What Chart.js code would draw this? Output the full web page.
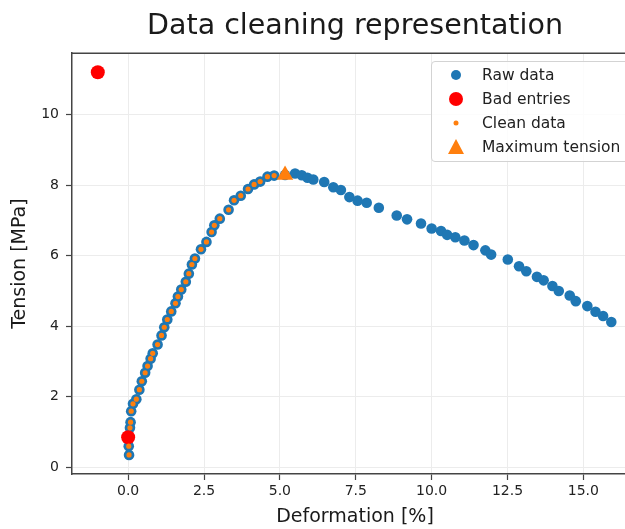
<!DOCTYPE html>
<html>
<head>
<meta charset="utf-8">
<script src="https://cdn.jsdelivr.net/npm/chart.js@4.4.1/dist/chart.umd.min.js"></script>
<style>
    html, body { margin: 0; padding: 0; overflow: hidden; background: #fff; }
    #wrap { position: relative; width: 625px; height: 529px; overflow: hidden; }
    #chart { position: absolute; left: 0; top: 0; }
    .legend {
        position: absolute; left: 431px; top: 61px; width: 240px; height: 99px;
        border: 1px solid #d3d3d3; border-radius: 4px; background: rgba(255,255,255,0.85);
        font: 15.5px "DejaVu Sans", sans-serif; color: #222;
    }
    .row { position: absolute; left: 0; height: 24px; line-height: 24px; width: 100%; }
    .row svg { position: absolute; left: 14px; top: 2px; }
    .row span { position: absolute; left: 50px; white-space: nowrap; }
</style>
</head>
<body>
<div id="wrap">
    <canvas id="chart" width="660" height="529"></canvas>
    <div class="legend">
        <div class="row" style="top:1px"><svg width="20" height="20"><circle cx="10" cy="10" r="5" fill="#1f77b4"/></svg><span>Raw data</span></div>
        <div class="row" style="top:25px"><svg width="20" height="20"><circle cx="10" cy="10" r="7" fill="#ff0000"/></svg><span>Bad entries</span></div>
        <div class="row" style="top:49px"><svg width="20" height="20"><circle cx="10" cy="10" r="2.5" fill="#ff7f0e"/></svg><span>Clean data</span></div>
        <div class="row" style="top:73px"><svg width="20" height="20"><polygon points="10,2 18,17 2,17" fill="#ff7f0e"/></svg><span>Maximum tension</span></div>
    </div>
</div>
<script>
// points kept after cleaning (rising part, bad entries removed)
const cleanX = [0.03, 0.02, 0.06, 0.08, 0.10, 0.16, 0.27, 0.37, 0.45, 0.56, 0.64, 0.74, 0.81, 0.97, 1.10,
    1.19, 1.29, 1.42, 1.56, 1.64, 1.75, 1.90, 2.00, 2.10, 2.20, 2.40, 2.58, 2.75, 2.84, 3.02,
    3.31, 3.49, 3.71, 3.95, 4.15, 4.35, 4.59, 4.81];
const cleanY = [0.35, 0.60, 1.12, 1.28, 1.59, 1.80, 1.93, 2.20, 2.44, 2.68, 2.87, 3.08, 3.23, 3.48, 3.74,
    3.97, 4.19, 4.42, 4.65, 4.84, 5.04, 5.26, 5.49, 5.75, 5.92, 6.18, 6.39, 6.67, 6.86, 7.05,
    7.30, 7.57, 7.70, 7.89, 8.02, 8.10, 8.24, 8.27];

// bad entries
const badX = [-1.0, 0.0];
const badY = [11.2, 0.85];

// maximum tension
const maxX = [5.17];
const maxY = [8.29];

// raw points after the maximum
const tailX = [5.50, 5.72, 5.91, 6.10, 6.46, 6.76, 7.01, 7.29, 7.56, 7.86, 8.26, 8.85, 9.19, 9.65, 10.0,
    10.31, 10.51, 10.78, 11.08, 11.38, 11.77, 11.96, 12.51, 12.88, 13.12, 13.47, 13.69, 13.98, 14.19, 14.55,
    14.75, 15.13, 15.40, 15.65, 15.92];
const tailY = [8.33, 8.28, 8.21, 8.16, 8.09, 7.94, 7.86, 7.66, 7.56, 7.50, 7.36, 7.14, 7.03, 6.91, 6.77,
    6.70, 6.59, 6.52, 6.43, 6.30, 6.15, 6.03, 5.89, 5.70, 5.56, 5.40, 5.30, 5.14, 5.00, 4.87,
    4.71, 4.57, 4.41, 4.29, 4.12];

// raw data = everything
const rawX = badX.concat(cleanX, maxX, tailX);
const rawY = badY.concat(cleanY, maxY, tailY);

const toPoints = (xs, ys) => xs.map((x, i) => ({ x: x, y: ys[i] }));

const FONT = "'DejaVu Sans', sans-serif";

// top/right spines like matplotlib
const framePlugin = {
    id: 'frame',
    beforeDatasetsDraw(chart) {
        const { ctx, chartArea: a } = chart;
        ctx.save();
        ctx.strokeStyle = '#444';
        ctx.lineWidth = 1.5;
        ctx.beginPath();
        ctx.moveTo(a.left, a.top);
        ctx.lineTo(a.right, a.top);
        ctx.lineTo(a.right, a.bottom);
        ctx.stroke();
        ctx.restore();
    }
};

new Chart(document.getElementById('chart'), {
    type: 'scatter',
    data: {
        datasets: [
            {
                label: 'Raw data',
                data: toPoints(rawX, rawY),
                backgroundColor: '#1f77b4',
                borderWidth: 0,
                pointRadius: 5.3,
                order: 4
            },
            {
                label: 'Bad entries',
                data: toPoints(badX, badY),
                backgroundColor: '#ff0000',
                borderWidth: 0,
                pointRadius: 7,
                order: 3
            },
            {
                label: 'Clean data',
                data: toPoints(cleanX, cleanY),
                backgroundColor: '#ff7f0e',
                borderWidth: 0,
                pointRadius: 2.6,
                order: 2
            },
            {
                label: 'Maximum tension',
                data: toPoints(maxX, maxY),
                backgroundColor: '#ff7f0e',
                borderWidth: 0,
                pointStyle: 'triangle',
                pointRadius: 9.5,
                order: 1
            }
        ]
    },
    options: {
        responsive: false,
        animation: false,
        layout: { padding: { left: 0, right: 22, top: 0, bottom: 0 } },
        plugins: {
            legend: { display: false },
            tooltip: { enabled: false },
            title: {
                display: true,
                text: 'Data cleaning representation',
                fullSize: false,
                color: '#1a1a1a',
                font: { family: FONT, size: 28.5, weight: 'normal' },
                padding: { top: 9, bottom: 10 }
            }
        },
        scales: {
            x: {
                type: 'linear',
                min: -1.85,
                max: 16.8,
                ticks: {
                    stepSize: 2.5,
                    includeBounds: false,
                    autoSkip: false,
                    maxRotation: 0,
                    padding: 3,
                    color: '#222',
                    font: { family: FONT, size: 14 },
                    callback: v => v.toFixed(1)
                },
                grid: { color: '#ececec', tickColor: '#444', tickLength: 6, tickWidth: 1.2 },
                border: { color: '#444', width: 1.5 },
                title: {
                    display: true,
                    text: 'Deformation [%]',
                    color: '#1a1a1a',
                    font: { family: FONT, size: 19 },
                    padding: { top: 0, bottom: 1 }
                },
                afterFit(scale) { scale.height = 55; }
            },
            y: {
                min: -0.19,
                max: 11.74,
                ticks: {
                    stepSize: 2,
                    includeBounds: false,
                    padding: 7,
                    color: '#222',
                    font: { family: FONT, size: 14 }
                },
                grid: { color: '#ececec', tickColor: '#444', tickLength: 6, tickWidth: 1.2 },
                border: { color: '#444', width: 1.5 },
                title: {
                    display: true,
                    text: 'Tension [MPa]',
                    color: '#1a1a1a',
                    font: { family: FONT, size: 19 },
                    padding: { top: 9, bottom: 0 }
                },
                afterFit(scale) { scale.width = 72; }
            }
        }
    },
    plugins: [framePlugin]
});
</script>
</body>
</html>
